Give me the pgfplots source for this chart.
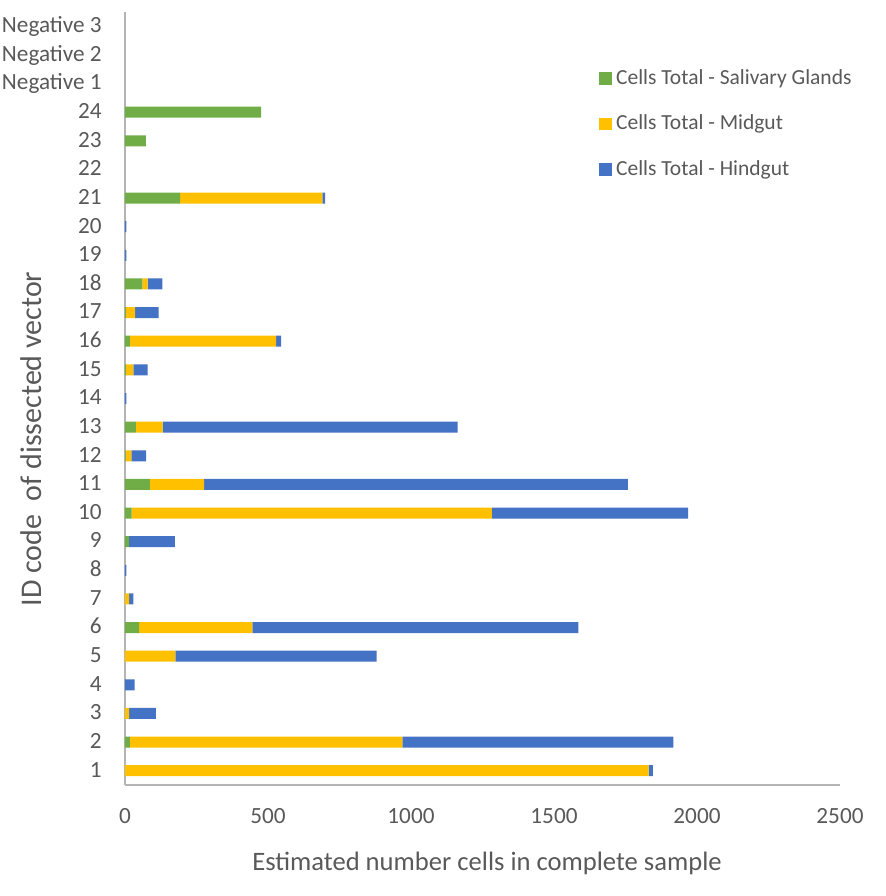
\documentclass[border=0pt]{standalone}
\usepackage{pgfplots}
\usepackage{pgfplotstable}
\pgfplotsset{compat=1.18}
\usepackage{fontspec}
\setmainfont{Carlito}
\definecolor{sg}{HTML}{70AD47}
\definecolor{mg}{HTML}{FFC000}
\definecolor{hg}{HTML}{4472C4}
\definecolor{txt}{HTML}{595959}
\definecolor{axl}{HTML}{B4B4B4}
\pgfplotstableread{
id G Y B
1 0 1831 15
2 17 953 947
3 0 14 94
4 0 0 34
5 0 176 704
6 49 396 1140
7 0 14 15
8 0 0 5
9 14 0 160
10 23 1260 686
11 87 190 1481
12 2 20 52
13 38 94 1031
14 0 0 5
15 3 26 50
16 17 511 18
17 3 32 83
18 61 18 52
19 0 0 5
20 0 0 5
21 193 497 10
22 0 0 0
23 73 0 0
24 476 0 0
25 0 0 0
26 0 0 0
27 0 0 0
}\datatable
\begin{document}
\begin{tikzpicture}
\useasboundingbox (-62.5pt,-55.5pt) rectangle (380.5pt,392.5pt);
\begin{axis}[
  scale only axis,
  width=357.5pt, height=386.5pt,
  xbar stacked,
  bar width=5.5pt,
  xmin=0, xmax=2500,
  ymin=0.5, ymax=27.5,
  xtick={0,500,1000,1500,2000,2500},
  ytick={1,...,27},
  yticklabels={1,2,3,4,5,6,7,8,9,10,11,12,13,14,15,16,17,18,19,20,21,22,23,24,Negative 1,Negative 2,Negative 3},
  major tick length=0pt,
  axis x line*=bottom, axis y line*=left,
  axis line style={draw=axl, line width=1pt, -},
  /pgf/number format/assume math mode=true,
  /pgf/number format/1000 sep={},
  tick label style={font=\fontsize{11.6}{13}\selectfont, text=txt, inner sep=0pt},
  yticklabel style={anchor=base east, xshift=-11.5pt, yshift=-0.316em},
  xticklabel style={anchor=base, yshift=-19pt},
  xlabel={Estimated number cells in complete sample},
  ylabel={ID code\ \ of dissected vector},
  xlabel style={font=\fontsize{13.3}{15}\selectfont, text=txt, at={(axis description cs:0.5063,-0.110)}, anchor=base},
  ylabel style={font=\fontsize{15}{17}\selectfont, text=txt, at={(axis description cs:-0.131,0.4476)}, anchor=center},
  legend style={draw=none, fill=none, font=\fontsize{10.75}{12}\selectfont, text=txt,
    at={(axis description cs:0.663,0.9314)}, anchor=north west, row sep=9.75pt,
    inner sep=0pt, /tikz/every even column/.append style={column sep=0pt}},
  legend cell align=left,
  legend image code/.code={\fill[#1] (0pt,-3.2pt) rectangle (6.35pt,3.15pt);},
  clip=false,
]
\addplot[fill=sg, draw=none] table[x=G, y=id] {\datatable};
\addplot[fill=mg, draw=none] table[x=Y, y=id] {\datatable};
\addplot[fill=hg, draw=none] table[x=B, y=id] {\datatable};
\legend{Cells Total - Salivary Glands, Cells Total - Midgut, Cells Total - Hindgut}
\end{axis}
\end{tikzpicture}
\end{document}
